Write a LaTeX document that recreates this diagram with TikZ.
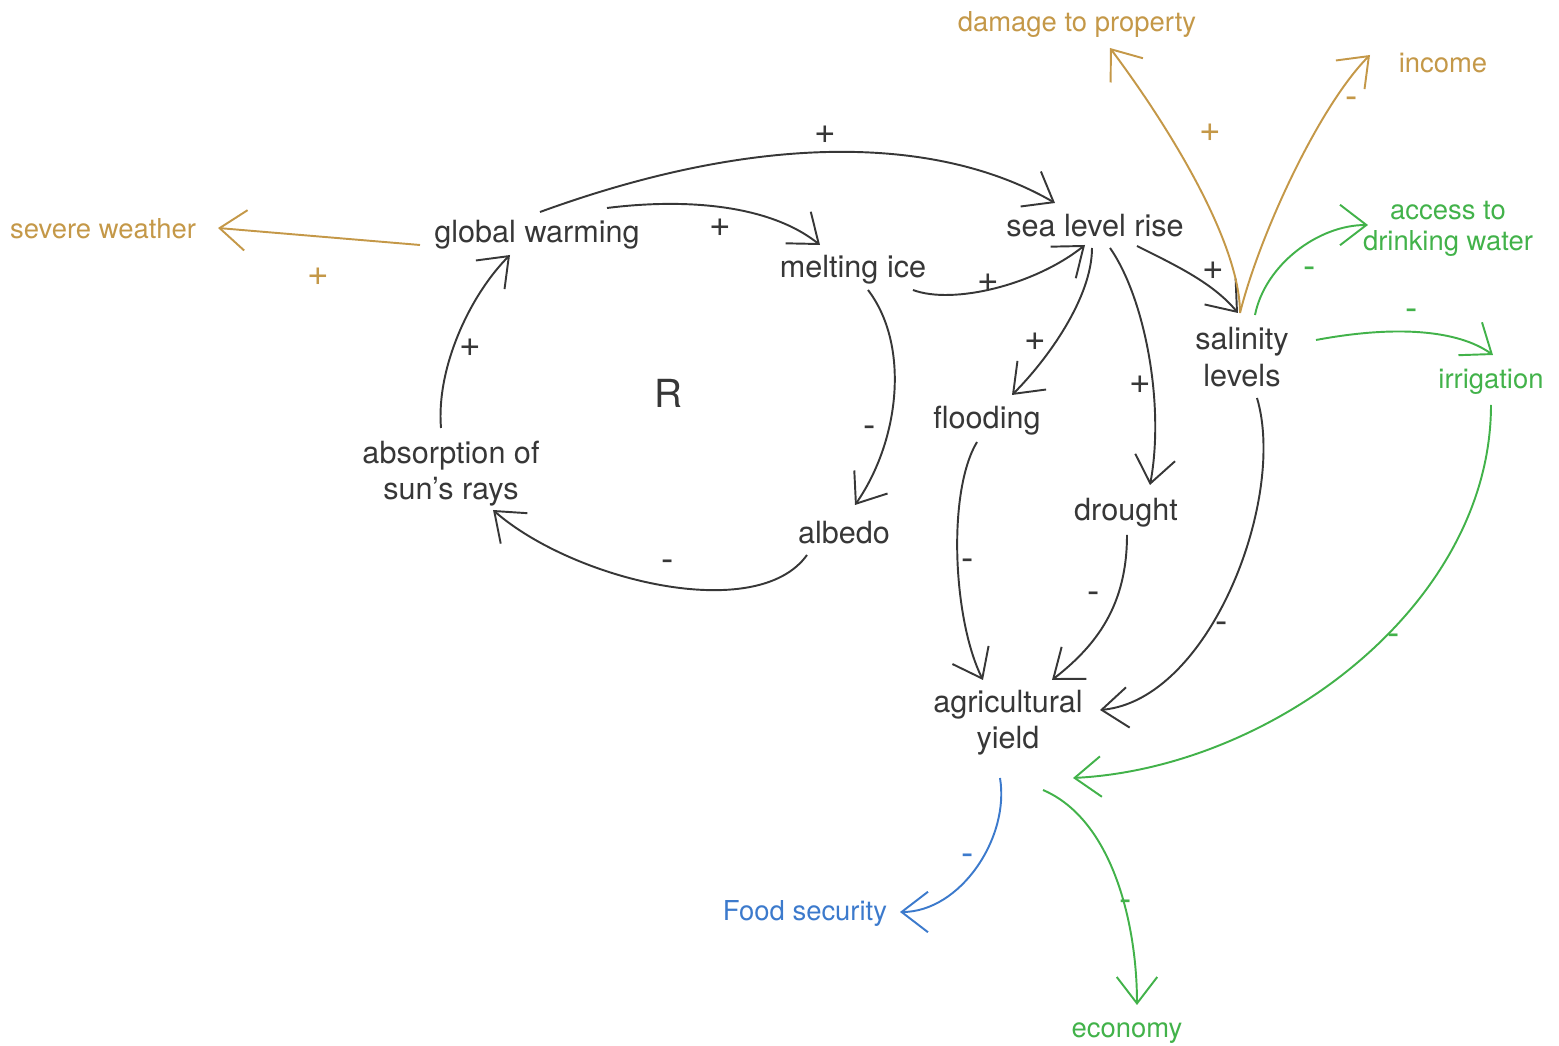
\documentclass[tikz,border=0pt]{standalone}
\usepackage{fontspec}
\setmainfont{TeX Gyre Heros}
\usetikzlibrary{arrows.meta,calc}

\definecolor{ink}{RGB}{55,55,55}
\definecolor{gold}{RGB}{196,152,72}
\definecolor{leaf}{RGB}{66,178,74}
\definecolor{sky}{RGB}{60,122,204}

\tikzset{
  var/.style = {inner sep = 0pt, align = center, text = ink, font = \fontsize{8.7}{10.3}\selectfont},
  outer/.style = {inner sep = 0pt, align = center, font = \fontsize{7.8}{8.9}\selectfont},
  link/.style = {draw = ink, line width = 0.55pt, -{Straight Barb[length = 7.5pt, width = 11.5pt]}},
  sign/.style = {inner sep = 0pt, text = ink, font = \fontsize{10.5}{11}\selectfont}
}

\begin{document}
\begin{tikzpicture}[x = 0.01cm, y = -0.01cm]
\useasboundingbox (0, 0) rectangle (1559, 1046);

% variables of the loop
\node[var] (gw) at (537, 235) {global warming};
\node[var] (mi) at (853, 270) {melting ice};
\node[var] (alb) at (844, 533) {albedo};
\node[var] (abs) at (451, 474) {absorption of\\sun's rays};
\node[var, font = \fontsize{11}{12}\selectfont] (loop) at (668, 393) {R};

% sea level and its effects
\node[var] (slr) at (1095, 226) {sea level rise};
\node[var] (fld) at (987, 421) {flooding};
\node[var] (dro) at (1126, 513) {drought};
\node[var] (sal) at (1242, 357) {salinity\\levels};
\node[var] (agr) at (1008, 723) {agricultural\\yield};

% outer effects
\node[outer, text = gold] (sw) at (103, 229) {severe weather};
\node[outer, text = gold] (dmg) at (1077, 24) {damage to property};
\node[outer, text = gold] (inc) at (1443, 63) {income};
\node[outer, text = leaf] (acc) at (1448, 229) {access to\\drinking water};
\node[outer, text = leaf] (irr) at (1491, 382) {irrigation};
\node[outer, text = sky] (food) at (805, 913) {Food security};
\node[outer, text = leaf] (eco) at (1127, 1033) {economy};

% reinforcing loop
\draw[link] ($(gw)+(3,-23)$) .. controls +(225,-82) and +(-114,-66) .. ($(slr)+(-40,-23)$);
\draw[link] ($(gw)+(70,-27)$) .. controls +(80,-10) and +(-50,-40) .. ($(mi)+(-33,-25)$);
\draw[link] ($(mi)+(60,20)$) .. controls +(40,15) and +(-50,40) .. ($(slr)+(-10,19)$);
\draw[link] ($(mi)+(15,20)$) .. controls +(42,55) and +(45,-65) .. ($(alb)+(11,-28)$);
\draw[link] ($(alb)+(-37,22)$) .. controls +(-50,70) and +(80,70) .. ($(abs)+(42,36)$);
\draw[link] ($(abs)+(-10,-46)$) .. controls +(-5,-60) and +(-40,40) .. ($(gw)+(-27,20)$);

% from sea level rise
\draw[link] ($(slr)+(-3,22)$) .. controls +(0,50) and +(35,-35) .. ($(fld)+(25,-26)$);
\draw[link] ($(slr)+(15,22)$) .. controls +(35,50) and +(15,-80) .. ($(dro)+(24,-28)$);
\draw[link] ($(slr)+(42,20)$) .. controls +(40,20) and +(-25,-30) .. ($(sal)+(-4,-44)$);

% into agricultural yield
\draw[link] ($(fld)+(-10,21)$) .. controls +(-30,50) and +(-30,-60) .. ($(agr)+(-25,-43)$);
\draw[link] ($(dro)+(1,22)$) .. controls +(0,70) and +(45,-35) .. ($(agr)+(44,-43)$);
\draw[link] ($(sal)+(15,41)$) .. controls +(30,100) and +(110,-10) .. ($(agr)+(92,-13)$);
\draw[link, draw = leaf] ($(irr)+(0,23)$) .. controls +(0,200) and +(200,-10) .. ($(agr)+(65,55)$);

% outer arrows
\draw[link, draw = gold] ($(gw)+(-117,10)$) -- ($(sw)+(115,-1)$);
\draw[link, draw = gold] ($(sal)+(-2,-44)$) .. controls +(0,-70) and +(60,80) .. ($(dmg)+(33,24)$);
\draw[link, draw = gold] ($(sal)+(-2,-44)$) .. controls +(20,-80) and +(-50,50) .. ($(inc)+(-73,-8)$);
\draw[link, draw = leaf] ($(sal)+(13,-42)$) .. controls +(10,-50) and +(-50,0) .. ($(acc)+(-80,-4)$);
\draw[link, draw = leaf] ($(sal)+(74,-17)$) .. controls +(80,-15) and +(-35,-25) .. ($(irr)+(2,-27)$);
\draw[link, draw = sky] ($(agr)+(-8,55)$) .. controls +(10,60) and +(60,0) .. ($(food)+(95,-1)$);
\draw[link, draw = leaf] ($(agr)+(35,67)$) .. controls +(70,30) and +(0,-80) .. ($(eco)+(10,-28)$);

% polarities
\node[sign, text = gold] (s1) at (318, 277) {+};
\node[sign] (s2) at (825, 135) {+};
\node[sign] (s3) at (720, 228) {+};
\node[sign] (s4) at (988, 283) {+};
\node[sign] (s5) at (870, 432) {-};
\node[sign] (s6) at (668, 566) {-};
\node[sign] (s7) at (470, 348) {+};
\node[sign] (s8) at (1035, 342) {+};
\node[sign] (s9) at (1140, 385) {+};
\node[sign] (s10) at (1213, 271) {+};
\node[sign, text = gold] (s11) at (1210, 133) {+};
\node[sign, text = gold] (s12) at (1352, 103) {-};
\node[sign, text = leaf] (s13) at (1310, 273) {-};
\node[sign, text = leaf] (s14) at (1412, 315) {-};
\node[sign] (s15) at (968, 565) {-};
\node[sign] (s16) at (1094, 598) {-};
\node[sign] (s17) at (1222, 628) {-};
\node[sign, text = leaf] (s18) at (1394, 640) {-};
\node[sign, text = sky] (s19) at (968, 860) {-};
\node[sign, text = leaf] (s20) at (1126, 906) {-};
\end{tikzpicture}
\end{document}
